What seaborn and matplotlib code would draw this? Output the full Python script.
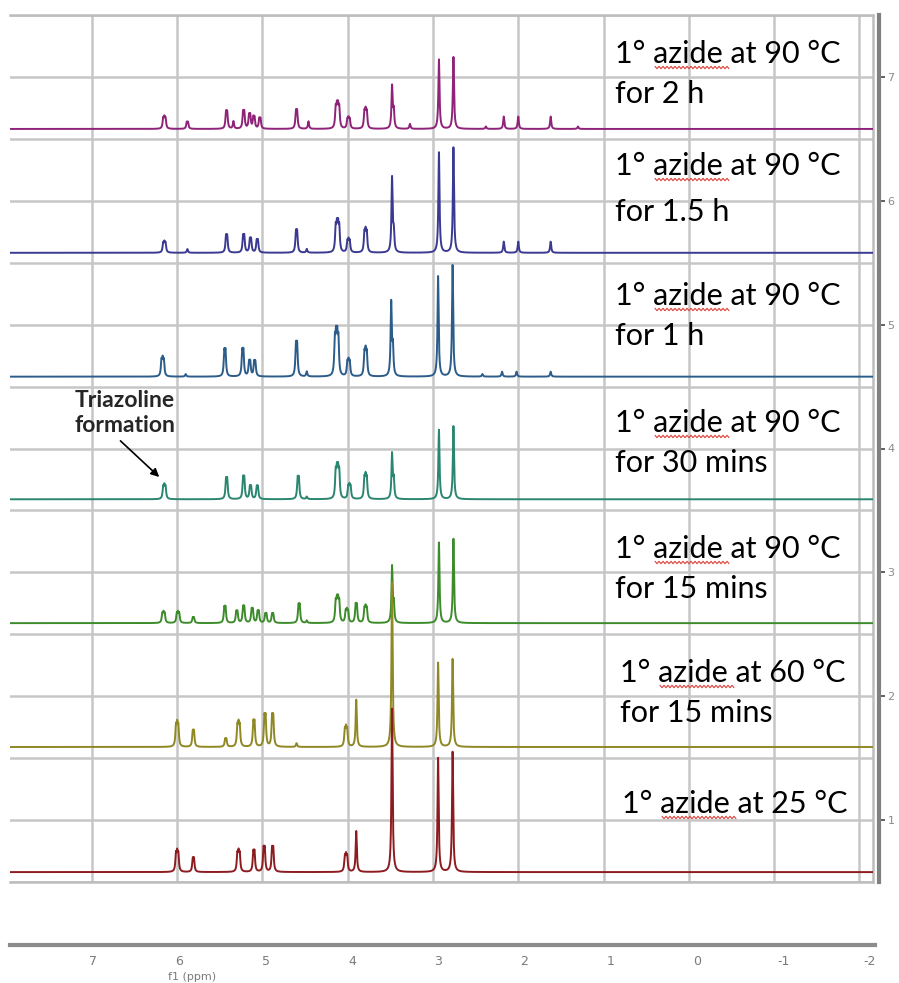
import numpy as np
import pandas as pd
import matplotlib
matplotlib.use("Agg")
import matplotlib.pyplot as plt
from matplotlib.lines import Line2D
from matplotlib.ticker import MultipleLocator
import seaborn as sns

# ---------------------------------------------------------------- data
# Stacked 1H NMR spectra of the primary azide, top trace first.
# For every trace: peak centres (ppm), peak heights (in stacking units)
# and the number of resolved lines that make up each multiplet.
sample_names = ["90C_2h", "90C_1.5h", "90C_1h", "90C_30min", "90C_15min", "60C_15min", "25C"]

ppm_90C_2h = [6.15, 5.88, 5.42, 5.34, 5.22, 5.15, 5.10, 5.03, 4.60, 4.46, 4.12, 3.99, 3.79,
              3.48, 3.46, 3.27, 2.93, 2.76, 2.38, 2.17, 2.00, 1.62, 1.30]
height_90C_2h = [0.11, 0.06, 0.15, 0.06, 0.15, 0.12, 0.10, 0.09, 0.16, 0.06, 0.23, 0.10, 0.18,
                 0.34, 0.14, 0.04, 0.56, 0.58, 0.02, 0.10, 0.10, 0.10, 0.02]
mult_90C_2h = [3, 2, 2, 1, 2, 2, 2, 2, 2, 1, 4, 3, 3, 1, 1, 1, 1, 1, 1, 1, 1, 1, 1]

ppm_90C_1_5h = [6.15, 5.88, 5.42, 5.22, 5.14, 5.06, 4.60, 4.48, 4.12, 3.99, 3.79, 3.48, 3.46,
                2.93, 2.76, 2.17, 2.00, 1.62]
height_90C_1_5h = [0.10, 0.03, 0.15, 0.15, 0.12, 0.11, 0.19, 0.03, 0.28, 0.12, 0.21, 0.60, 0.15,
                   0.81, 0.85, 0.09, 0.09, 0.09]
mult_90C_1_5h = [3, 1, 2, 2, 2, 2, 2, 1, 4, 3, 3, 1, 1, 1, 1, 1, 1, 1]

ppm_90C_1h = [6.17, 5.90, 5.44, 5.23, 5.15, 5.09, 4.60, 4.48, 4.13, 3.99, 3.79, 3.49, 3.47,
              2.94, 2.77, 2.42, 2.19, 2.02, 1.62]
height_90C_1h = [0.17, 0.02, 0.23, 0.23, 0.13, 0.13, 0.29, 0.04, 0.41, 0.15, 0.25, 0.59, 0.22,
                 0.81, 0.90, 0.02, 0.04, 0.04, 0.04]
mult_90C_1h = [3, 1, 2, 2, 2, 2, 2, 1, 4, 3, 3, 1, 1, 1, 1, 1, 1, 1, 1]

ppm_90C_30min = [6.15, 5.42, 5.22, 5.14, 5.06, 4.58, 4.48, 4.12, 3.98, 3.79, 3.48, 3.46, 2.93, 2.76]
height_90C_30min = [0.13, 0.18, 0.19, 0.11, 0.11, 0.19, 0.02, 0.30, 0.13, 0.22, 0.36, 0.15, 0.56, 0.59]
mult_90C_30min = [3, 2, 2, 2, 2, 2, 1, 4, 3, 3, 1, 1, 1, 1]

ppm_90C_15min = [6.16, 5.99, 5.81, 5.44, 5.30, 5.22, 5.12, 5.05, 4.96, 4.88, 4.57, 4.48, 4.12,
                 4.01, 3.90, 3.79, 3.48, 3.46, 2.93, 2.76]
height_90C_15min = [0.10, 0.10, 0.05, 0.14, 0.10, 0.14, 0.12, 0.10, 0.08, 0.08, 0.16, 0.02, 0.23,
                    0.12, 0.16, 0.15, 0.45, 0.14, 0.65, 0.68]
mult_90C_15min = [3, 3, 2, 2, 2, 2, 2, 2, 2, 2, 2, 1, 4, 3, 2, 3, 1, 1, 1, 1]

ppm_60C_15min = [6.00, 5.81, 5.43, 5.28, 5.10, 4.97, 4.88, 4.60, 4.02, 3.90, 3.48, 2.94, 2.77]
height_60C_15min = [0.22, 0.14, 0.07, 0.22, 0.22, 0.27, 0.27, 0.03, 0.18, 0.38, 1.33, 0.68, 0.71]
mult_60C_15min = [3, 2, 2, 3, 2, 2, 2, 1, 3, 1, 1, 1, 1]

ppm_25C = [6.00, 5.81, 5.28, 5.10, 4.98, 4.88, 4.02, 3.90, 3.48, 2.94, 2.77]
height_25C = [0.19, 0.12, 0.19, 0.18, 0.21, 0.21, 0.16, 0.33, 1.32, 0.92, 0.97]
mult_25C = [3, 2, 3, 2, 2, 2, 3, 1, 1, 1, 1]

# vertical offset of each trace on the stacking axis
trace_offsets = [6.58, 5.58, 4.58, 3.59, 2.59, 1.59, 0.58]

label_line1 = ["1° azide at 90 °C"] * 5 + ["1° azide at 60 °C", "1° azide at 25 °C"]
label_line2 = ["for 2 h", "for 1.5 h", "for 1 h", "for 30 mins", "for 15 mins", "for 15 mins", ""]

trace_colors = ["#8e2379", "#3b3a92", "#2b5c8a", "#2a8670", "#3d8c2c", "#8f8824", "#8c1c20"]

peak_tables = [
    (ppm_90C_2h, height_90C_2h, mult_90C_2h),
    (ppm_90C_1_5h, height_90C_1_5h, mult_90C_1_5h),
    (ppm_90C_1h, height_90C_1h, mult_90C_1h),
    (ppm_90C_30min, height_90C_30min, mult_90C_30min),
    (ppm_90C_15min, height_90C_15min, mult_90C_15min),
    (ppm_60C_15min, height_60C_15min, mult_60C_15min),
    (ppm_25C, height_25C, mult_25C),
]

# ---------------------------------------------------------------- spectra
PPM_LEFT, PPM_RIGHT = 7.96, -2.16
HALF_WIDTH = 0.008    # Lorentzian half width at half maximum (ppm)
J_SPACING = 0.014     # line spacing inside a multiplet (ppm)

ppm_axis = np.linspace(PPM_LEFT, PPM_RIGHT, 14000)


def lorentzian(x, centre):
    return 1.0 / (1.0 + ((x - centre) / HALF_WIDTH) ** 2)


frames = []
for name, offset, (centres, heights, mults) in zip(sample_names, trace_offsets, peak_tables):
    intensity = np.full_like(ppm_axis, offset)
    for c, h, n in zip(centres, heights, mults):
        profile = np.zeros_like(ppm_axis)
        for j in range(n):
            profile += lorentzian(ppm_axis, c + (j - (n - 1) / 2) * J_SPACING)
        # scale the multiplet so its tallest line reaches the stated height
        intensity += h * profile / profile.max()
    frames.append(pd.DataFrame({"ppm": ppm_axis, "intensity": intensity, "sample": name}))
spectra = pd.concat(frames, ignore_index=True)

# ---------------------------------------------------------------- figure
sns.set_theme(style="white")
plt.rcParams["axes.unicode_minus"] = False
plt.rcParams["font.family"] = ["DejaVu Sans"]

W, H = 899, 983
fig = plt.figure(figsize=(W / 100, H / 100), dpi=100)


def fx(px):
    return px / W


def fy(py):
    return 1 - py / H


ax = fig.add_axes([fx(10), fy(882), fx(873) - fx(10), fy(15) - fy(882)])
sns.lineplot(data=spectra, x="ppm", y="intensity", hue="sample", hue_order=sample_names,
             palette=dict(zip(sample_names, trace_colors)), estimator=None, sort=False,
             legend=False, linewidth=1.4, ax=ax, zorder=3)

ax.set_xlim(PPM_LEFT, PPM_RIGHT)
ax.set_ylim(0.5, 7.5)
ax.set_xlabel("")
ax.set_ylabel("")

grid_color = "#c6c6c6"
ax.set_xticks(np.arange(-2, 8))
ax.yaxis.set_major_locator(MultipleLocator(1.0))
ax.yaxis.set_minor_locator(MultipleLocator(0.5))
ax.grid(True, which="major", axis="x", color=grid_color, linewidth=1.8)
ax.grid(True, which="both", axis="y", color=grid_color, linewidth=1.8)
ax.tick_params(axis="x", bottom=False, labelbottom=False)
ax.tick_params(axis="y", which="minor", length=0)

# stacking ruler on the right
ax.yaxis.tick_right()
ax.tick_params(axis="y", which="major", left=False, right=True, length=4, width=1.3,
               color="#555555", labelsize=8, labelcolor="#8a8a8a", pad=2)
ax.set_yticks(np.arange(1, 8))
ax.spines["left"].set_visible(False)
for side in ["top", "bottom"]:
    ax.spines[side].set_color("#bdbdbd")
    ax.spines[side].set_linewidth(1.8)
ax.spines["right"].set_position(("outward", 4.5))
ax.spines["right"].set_color("#808080")
ax.spines["right"].set_linewidth(3)
ax.axvline(PPM_RIGHT, color="#bdbdbd", linewidth=1.8, clip_on=False, zorder=2)

# chemical-shift ruler below the stack
rax = fig.add_axes([fx(10), fy(945), fx(875) - fx(10), 0.0001])
rax.set_xlim(7.96, -2.06)
rax.set_ylim(0, 1)
rax.set_yticks([])
for side in ["left", "right", "top"]:
    rax.spines[side].set_visible(False)
rax.spines["bottom"].set_color("#8c8c8c")
rax.spines["bottom"].set_linewidth(3)
rax.xaxis.set_major_locator(MultipleLocator(1.0))
rax.xaxis.set_minor_locator(MultipleLocator(0.5))
rax.tick_params(axis="x", which="major", direction="inout", length=9, width=1.3,
                color="#333333", labelsize=9, labelcolor="#7a7a7a", pad=3)
rax.tick_params(axis="x", which="minor", direction="inout", length=5, width=1.1, color="#444444")
rax.set_facecolor("none")
fig.text(fx(192), fy(977), "f1 (ppm)", ha="center", va="center", fontsize=8, color="#7a7a7a")

# condition labels with the spell-check underline under "azide"
label_x = [615, 615, 615, 615, 615, 620, 622]
base1 = [63, 175, 305, 432, 558, 682, 813]
base2 = [103, 221, 345, 472, 598, 722, None]
for x0, b1, b2, t1, t2 in zip(label_x, base1, base2, label_line1, label_line2):
    fig.text(fx(x0), fy(b1), t1, ha="left", va="baseline", fontsize=22,
             family=["Lato", "DejaVu Sans"], color="black")
    if t2:
        fig.text(fx(x0), fy(b2), t2, ha="left", va="baseline", fontsize=22,
                 family=["Lato", "DejaVu Sans"], color="black")
    zx = np.arange(x0 + 40, x0 + 116, 2.0)
    zy = b1 + 4.5 + np.where(np.arange(zx.size) % 2 == 0, -1.2, 1.2)
    fig.add_artist(Line2D(fx(zx), fy(zy), color="#e0403a", linewidth=0.8))

# annotation of the new triazoline signal
ax.annotate("Triazoline\nformation", xy=(6.21, 3.77), xycoords="data",
            xytext=(fx(125), fy(413)), textcoords="figure fraction",
            ha="center", va="center", fontsize=16.5, fontweight="bold",
            family=["Lato", "DejaVu Sans"], linespacing=1.2,
            arrowprops=dict(arrowstyle="-|>", color="black", lw=1.2,
                            mutation_scale=12, relpos=(0.4, 0.0), shrinkA=2, shrinkB=0),
            zorder=5)

fig.savefig("out.png", dpi=100)
